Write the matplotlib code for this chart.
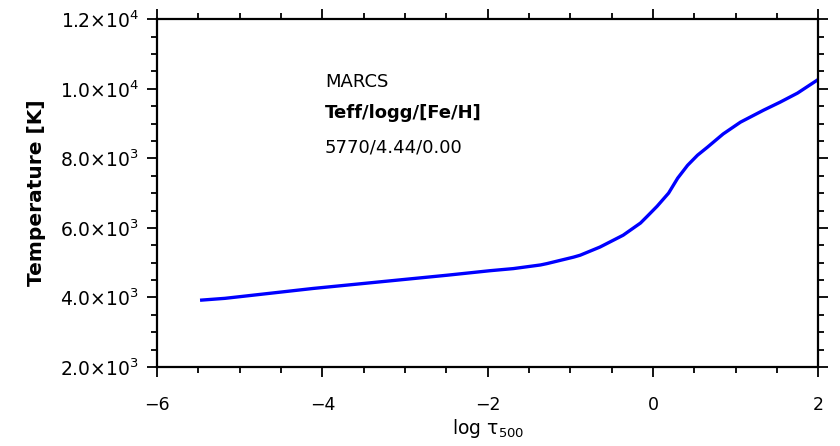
import matplotlib
matplotlib.use("Agg")
import matplotlib.pyplot as plt
from matplotlib.ticker import MultipleLocator

# MARCS model atmosphere, solar parameters
log_tau = [-5.46, -5.18, -4.11, -3.30, -2.49, -1.97, -1.69, -1.36, -1.28,
           -0.96, -0.88, -0.64, -0.36, -0.15, -0.07, 0.05, 0.19, 0.30,
           0.42, 0.54, 0.66, 0.85, 1.06, 1.34, 1.54, 1.75, 1.99]
temp = [3925, 3975, 4260, 4450, 4640, 4770, 4830, 4935, 4975,
        5160, 5215, 5450, 5790, 6140, 6330, 6620, 7000, 7430,
        7800, 8090, 8320, 8700, 9040, 9385, 9615, 9875, 10250]

y_ticks = [2000, 4000, 6000, 8000, 10000, 12000]
y_labels = [r'2.0$\times$10$^{3}$', r'4.0$\times$10$^{3}$', r'6.0$\times$10$^{3}$',
            r'8.0$\times$10$^{3}$', r'1.0$\times$10$^{4}$', r'1.2$\times$10$^{4}$']
x_ticks = [-6, -4, -2, 0, 2]

plt.rcParams['font.family'] = ['DejaVu Sans']
plt.rcParams['mathtext.fontset'] = 'dejavusans'

fig = plt.figure(figsize=(8.4, 4.46), dpi=100)
ax = fig.add_axes([0.187, 0.177, 0.787, 0.78])

ax.plot(log_tau, temp, color='#0000ff', lw=2.4, solid_joinstyle='round')

ax.set_xlim(-6, 2)
ax.set_ylim(2000, 12000)
ax.set_xticks(x_ticks)
ax.set_xticklabels([str(t).replace('-', '\u2212') for t in x_ticks])
ax.set_yticks(y_ticks)
ax.set_yticklabels(y_labels)
ax.xaxis.set_minor_locator(MultipleLocator(0.5))
ax.yaxis.set_minor_locator(MultipleLocator(500))
ax.tick_params(which='both', direction='out', top=True, right=True,
               width=1.3, colors='black')
ax.tick_params(axis='x', labelsize=12.5, pad=14)
ax.tick_params(axis='y', labelsize=13.5, pad=6)
ax.tick_params(which='major', length=7)
ax.tick_params(which='minor', length=4)
for s in ax.spines.values():
    s.set_linewidth(1.6)

ax.set_xlabel('log \u03c4$_{500}$', fontsize=13.5, labelpad=2)
ax.set_ylabel('Temperature [K]', fontsize=14.5, fontweight='bold', labelpad=10)

ax.text(-3.97, 10200, 'MARCS', fontsize=13, va='center')
ax.text(-3.97, 9290, 'Teff/logg/[Fe/H]', fontsize=13, fontweight='bold', va='center')
ax.text(-3.97, 8300, '5770/4.44/0.00', fontsize=13, va='center')

fig.savefig('out.png', dpi=100)
